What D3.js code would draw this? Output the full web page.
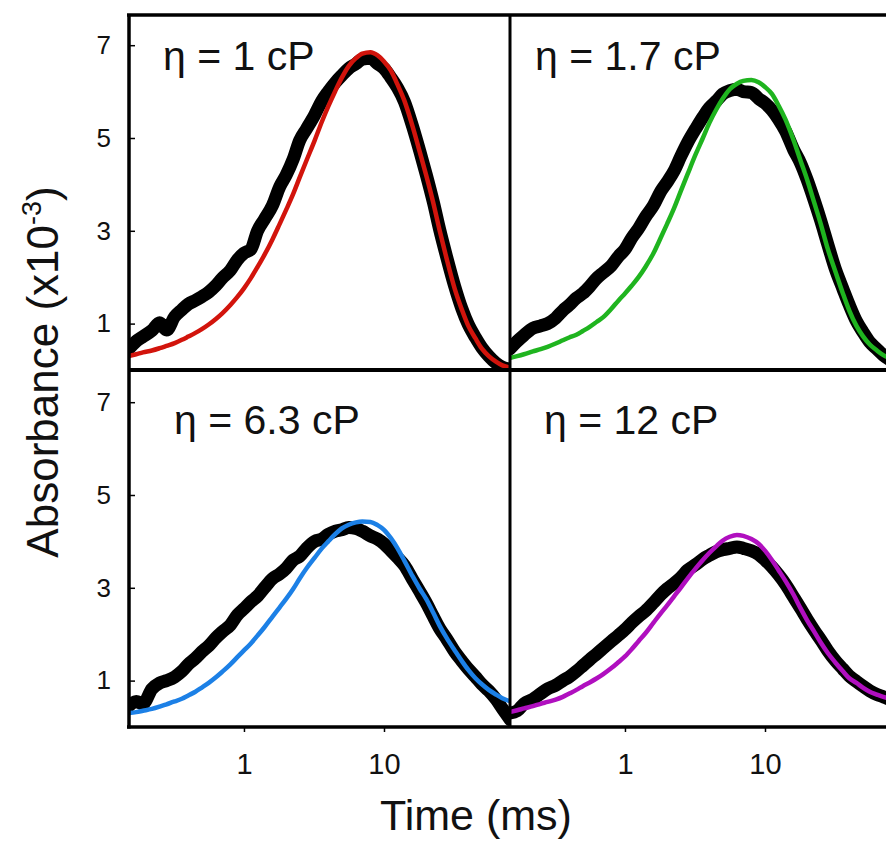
<!DOCTYPE html>
<html>
<head>
<meta charset="utf-8">
<script src="https://cdn.jsdelivr.net/npm/d3@7"></script>
<style>
  body { margin: 0; background: #fff; }
  svg { display: block; font-family: "Liberation Sans", Arial, sans-serif; }
</style>
</head>
<body>
<div class="chart"></div>
<script>
// DATA ------------------------------------

// time points (ms), shared by every trace
const times = [0.15, 0.17, 0.19, 0.22, 0.25, 0.28, 0.32, 0.36, 0.4, 0.45, 0.5, 0.56, 0.63, 0.7, 0.8, 0.9,
    1.0, 1.12, 1.25, 1.4, 1.6, 1.8, 2.0, 2.25, 2.5, 2.8, 3.2, 3.6, 4.0, 4.5, 5.0, 5.6, 6.3, 7.0, 8.0, 9.0,
    10, 11.2, 12.5, 14, 16, 18, 20, 22.5, 25, 28, 32, 36, 40, 45, 50, 56, 63, 70, 80];

const panelLabels = ['\u03b7 = 1 cP', '\u03b7 = 1.7 cP', '\u03b7 = 6.3 cP', '\u03b7 = 12 cP'];
const fitColors = ['#d2140c', '#1fb41f', '#1c80e6', '#b00fbf'];

// measured absorbance (x10^-3)
const data1 = [0.45, 0.62, 0.72, 0.85, 1.02, 0.86, 1.15, 1.3, 1.42, 1.5, 1.58, 1.68, 1.82, 1.98, 2.15, 2.38,
    2.52, 2.6, 3.0, 3.25, 3.55, 3.95, 4.2, 4.55, 4.95, 5.2, 5.5, 5.8, 6.0, 6.2, 6.35, 6.5, 6.6, 6.7, 6.72, 6.6,
    6.5, 6.3, 6.08, 5.78, 5.25, 4.72, 4.22, 3.62, 3.02, 2.44, 1.8, 1.32, 0.98, 0.7, 0.48, 0.3, 0.15, 0.06, 0.02];
const data2 = [0.45, 0.62, 0.75, 0.9, 0.95, 1.0, 1.12, 1.28, 1.4, 1.55, 1.65, 1.8, 1.98, 2.1, 2.25, 2.45,
    2.6, 2.85, 3.05, 3.3, 3.55, 3.85, 4.05, 4.3, 4.6, 4.9, 5.2, 5.45, 5.65, 5.8, 5.95, 6.02, 6.05, 6.0, 5.98, 5.85,
    5.75, 5.6, 5.4, 5.15, 4.75, 4.45, 4.1, 3.65, 3.22, 2.72, 2.15, 1.75, 1.4, 1.05, 0.82, 0.6, 0.45, 0.32, 0.2];
const data3 = [0.45, 0.55, 0.5, 0.82, 0.95, 1.0, 1.08, 1.2, 1.35, 1.48, 1.62, 1.75, 1.92, 2.05, 2.2, 2.42,
    2.55, 2.7, 2.82, 3.0, 3.2, 3.3, 3.42, 3.6, 3.68, 3.85, 4.0, 4.05, 4.15, 4.22, 4.25, 4.3, 4.28, 4.22, 4.12, 4.05,
    3.95, 3.8, 3.65, 3.48, 3.18, 2.92, 2.68, 2.38, 2.12, 1.9, 1.62, 1.42, 1.25, 1.08, 0.92, 0.78, 0.6, 0.4, 0.15];
const data4 = [0.3, 0.35, 0.5, 0.6, 0.72, 0.82, 0.9, 1.0, 1.08, 1.2, 1.32, 1.45, 1.58, 1.7, 1.85, 1.98,
    2.1, 2.25, 2.38, 2.5, 2.68, 2.85, 2.98, 3.1, 3.22, 3.38, 3.5, 3.62, 3.7, 3.78, 3.82, 3.85, 3.88, 3.85, 3.8, 3.72,
    3.6, 3.45, 3.28, 3.08, 2.8, 2.55, 2.32, 2.08, 1.88, 1.65, 1.42, 1.25, 1.1, 0.98, 0.88, 0.78, 0.7, 0.65, 0.58];

// fitted curves
const fit1 = [0.3, 0.34, 0.38, 0.42, 0.47, 0.52, 0.58, 0.65, 0.72, 0.8, 0.88, 0.98, 1.1, 1.22, 1.4, 1.58,
    1.76, 1.98, 2.22, 2.48, 2.82, 3.15, 3.45, 3.8, 4.15, 4.52, 4.95, 5.35, 5.68, 6.02, 6.3, 6.55, 6.72, 6.82, 6.85, 6.78,
    6.65, 6.45, 6.15, 5.8, 5.25, 4.7, 4.2, 3.6, 3.0, 2.4, 1.75, 1.3, 0.95, 0.68, 0.46, 0.3, 0.18, 0.1, 0.05];
const fit2 = [0.26, 0.3, 0.34, 0.4, 0.45, 0.5, 0.57, 0.64, 0.7, 0.76, 0.84, 0.93, 1.04, 1.14, 1.32, 1.5,
    1.65, 1.82, 2.0, 2.22, 2.52, 2.85, 3.15, 3.5, 3.85, 4.22, 4.65, 5.0, 5.32, 5.62, 5.85, 6.05, 6.17, 6.23, 6.25, 6.2,
    6.1, 5.95, 5.7, 5.4, 4.95, 4.5, 4.1, 3.6, 3.15, 2.62, 2.1, 1.65, 1.28, 0.95, 0.73, 0.55, 0.42, 0.32, 0.24];
const fit3 = [0.3, 0.32, 0.35, 0.39, 0.44, 0.49, 0.55, 0.61, 0.68, 0.76, 0.85, 0.95, 1.07, 1.19, 1.35, 1.51,
    1.65, 1.8, 1.97, 2.15, 2.38, 2.58, 2.76, 2.98, 3.2, 3.42, 3.65, 3.85, 4.0, 4.16, 4.28, 4.36, 4.41, 4.43, 4.42, 4.35,
    4.25, 4.07, 3.85, 3.58, 3.25, 2.98, 2.76, 2.46, 2.18, 1.92, 1.65, 1.42, 1.23, 1.05, 0.92, 0.8, 0.7, 0.62, 0.55];
const fit4 = [0.32, 0.36, 0.4, 0.45, 0.5, 0.54, 0.59, 0.65, 0.72, 0.8, 0.88, 0.96, 1.05, 1.14, 1.27, 1.4,
    1.52, 1.68, 1.85, 2.02, 2.25, 2.45, 2.62, 2.82, 3.0, 3.2, 3.42, 3.6, 3.75, 3.9, 4.02, 4.1, 4.14, 4.12, 4.05, 3.95,
    3.8, 3.6, 3.38, 3.15, 2.85, 2.55, 2.3, 2.05, 1.82, 1.6, 1.38, 1.2, 1.05, 0.95, 0.85, 0.76, 0.7, 0.65, 0.6];

const yTicks = [1, 3, 5, 7];
const xTicks = [1, 10];

// CHART INIT ------------------------------
const W = 886, H = 842;
const leftX = 129, midX = 510, panelW = 381;
const topY = 15, midY = 370, bottomY = 727;

let svg = d3.select('.chart')
    .append('svg')
    .attr('width', W)
    .attr('height', H);

const panels = [
    { x: leftX, y: topY, h: midY - topY, data: data1, fit: fit1, lx: 34, ly: 55 },
    { x: midX, y: topY, h: midY - topY, data: data2, fit: fit2, lx: 25, ly: 55 },
    { x: leftX, y: midY, h: bottomY - midY, data: data3, fit: fit3, lx: 45, ly: 64 },
    { x: midX, y: midY, h: bottomY - midY, data: data4, fit: fit4, lx: 34, ly: 64 }
];

const xScale = d3.scaleLog()
    .domain([0.151, 79.4])
    .range([0, panelW]);

panels.forEach((p, i) => {
    const yScale = d3.scaleLinear()
        .domain([0, p.h / 46.4])
        .range([p.h, 0]);

    const g = svg.append('g')
        .attr('transform', `translate(${p.x},${p.y})`);

    g.append('clipPath')
        .attr('id', 'clip' + i)
        .append('rect')
        .attr('width', panelW)
        .attr('height', p.h);

    const plot = g.append('g').attr('clip-path', `url(#clip${i})`);

    const line = d3.line()
        .x((d, j) => xScale(times[j]))
        .y(d => yScale(d))
        .curve(d3.curveMonotoneX);

    // measured trace (a dense band of points)
    plot.append('path')
        .datum(p.data)
        .attr('d', line)
        .attr('fill', 'none')
        .attr('stroke', '#000')
        .attr('stroke-width', 13)
        .attr('stroke-linejoin', 'round')
        .attr('stroke-linecap', 'round');

    // fit
    plot.append('path')
        .datum(p.fit)
        .attr('d', line)
        .attr('fill', 'none')
        .attr('stroke', fitColors[i])
        .attr('stroke-width', 4.5);

    // left axis ticks for left column
    if (p.x === leftX) {
        const yAxis = d3.axisLeft(yScale)
            .tickValues(yTicks)
            .tickSize(-6)
            .tickPadding(18)
            .tickFormat(d3.format('d'));
        const ya = g.append('g').call(yAxis);
        ya.select('.domain').remove();
        ya.selectAll('line').attr('stroke-width', 1.5);
        ya.selectAll('text')
            .attr('font-size', 26)
            .attr('font-family', '"Liberation Sans", Arial, sans-serif')
            .attr('fill', '#111');
    }

    // bottom axis for bottom row
    if (p.y === midY) {
        const xAxis = d3.axisBottom(xScale)
            .tickValues(xTicks)
            .tickSize(5)
            .tickPadding(21)
            .tickFormat(d3.format('d'));
        const xa = g.append('g')
            .attr('transform', `translate(0,${p.h})`)
            .call(xAxis);
        xa.select('.domain').remove();
        xa.selectAll('line').attr('stroke-width', 1.5);
        xa.selectAll('text')
            .attr('font-size', 29)
            .attr('font-family', '"Liberation Sans", Arial, sans-serif')
            .attr('fill', '#111');
    }

    // panel label
    g.append('text')
        .attr('x', p.lx)
        .attr('y', p.ly)
        .attr('font-size', 41)
        .attr('fill', '#111')
        .text(panelLabels[i]);
});

// frame lines
const frame = svg.append('g').attr('stroke', '#000').attr('fill', 'none');
frame.append('line').attr('x1', leftX - 2).attr('x2', W).attr('y1', topY).attr('y2', topY).attr('stroke-width', 3.5);
frame.append('line').attr('x1', leftX).attr('x2', W).attr('y1', midY).attr('y2', midY).attr('stroke-width', 4);
frame.append('line').attr('x1', leftX - 2).attr('x2', W).attr('y1', bottomY).attr('y2', bottomY).attr('stroke-width', 3.5);
frame.append('line').attr('x1', leftX).attr('x2', leftX).attr('y1', topY).attr('y2', bottomY + 1.5).attr('stroke-width', 3.5);
frame.append('line').attr('x1', midX).attr('x2', midX).attr('y1', topY).attr('y2', bottomY).attr('stroke-width', 3);

// axis titles
const yLabel = svg.append('text')
    .attr('transform', 'translate(58,372) rotate(-90)')
    .attr('text-anchor', 'middle')
    .attr('font-size', 44)
    .attr('fill', '#111');
yLabel.append('tspan').text('Absorbance (x10');
yLabel.append('tspan').attr('font-size', 27).attr('dy', -17).text('-3');
yLabel.append('tspan').attr('dy', 17).text(')');

svg.append('text')
    .attr('x', 476)
    .attr('y', 830)
    .attr('text-anchor', 'middle')
    .attr('font-size', 43)
    .attr('fill', '#111')
    .text('Time (ms)');
</script>
</body>
</html>
